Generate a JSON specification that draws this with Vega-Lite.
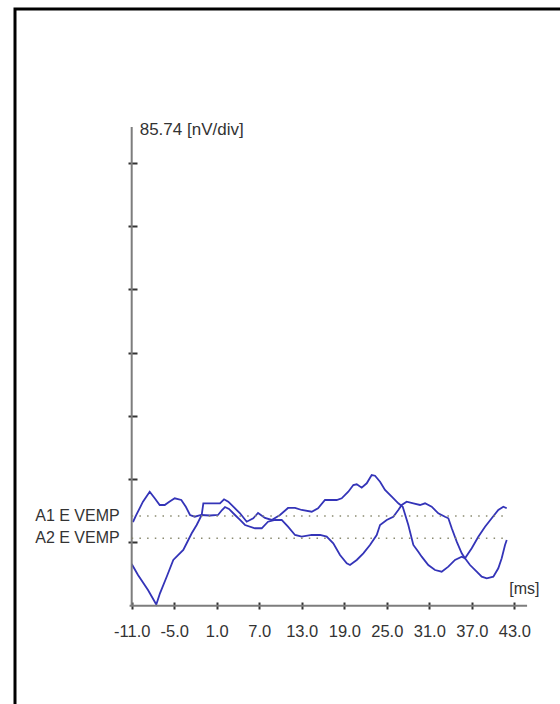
{
  "$schema": "https://vega.github.io/schema/vega-lite/v6.json",
  "width": 547,
  "height": 697,
  "autosize": {"type": "none"},
  "padding": {"left": 15, "top": 9, "right": -2, "bottom": -2},
  "background": "white",
  "config": {
    "view": {"stroke": "black", "strokeWidth": 3},
    "font": "Liberation Sans",
    "text": {"font": "Liberation Sans"},
    "axis": {"labelFont": "Liberation Sans"},
    "style": {"guide-label": {"font": "Liberation Sans"}}
  },
  "datasets": {
    "one": [{}],
    "refs": [
      {"label": "A1 E VEMP", "level": 1.418},
      {"label": "A2 E VEMP", "level": 1.066}
    ],
    "traces": [
      {"trace": "A1", "t": -10.82, "v": 1.323},
      {"trace": "A1", "t": -10.35, "v": 1.434},
      {"trace": "A1", "t": -9.41, "v": 1.644},
      {"trace": "A1", "t": -8.46, "v": 1.802},
      {"trace": "A1", "t": -7.75, "v": 1.698},
      {"trace": "A1", "t": -7.05, "v": 1.592},
      {"trace": "A1", "t": -6.34, "v": 1.592},
      {"trace": "A1", "t": -5.74, "v": 1.640},
      {"trace": "A1", "t": -4.93, "v": 1.698},
      {"trace": "A1", "t": -4.00, "v": 1.671},
      {"trace": "A1", "t": -3.34, "v": 1.560},
      {"trace": "A1", "t": -2.77, "v": 1.434},
      {"trace": "A1", "t": -2.11, "v": 1.407},
      {"trace": "A1", "t": -1.18, "v": 1.434},
      {"trace": "A1", "t": 0.05, "v": 1.426},
      {"trace": "A1", "t": 1.18, "v": 1.434},
      {"trace": "A1", "t": 1.75, "v": 1.513},
      {"trace": "A1", "t": 2.17, "v": 1.560},
      {"trace": "A1", "t": 2.73, "v": 1.529},
      {"trace": "A1", "t": 3.58, "v": 1.434},
      {"trace": "A1", "t": 4.29, "v": 1.355},
      {"trace": "A1", "t": 4.99, "v": 1.276},
      {"trace": "A1", "t": 6.40, "v": 1.224},
      {"trace": "A1", "t": 7.35, "v": 1.224},
      {"trace": "A1", "t": 8.24, "v": 1.328},
      {"trace": "A1", "t": 9.23, "v": 1.355},
      {"trace": "A1", "t": 10.17, "v": 1.355},
      {"trace": "A1", "t": 11.06, "v": 1.249},
      {"trace": "A1", "t": 12.05, "v": 1.118},
      {"trace": "A1", "t": 12.99, "v": 1.091},
      {"trace": "A1", "t": 14.41, "v": 1.118},
      {"trace": "A1", "t": 15.58, "v": 1.118},
      {"trace": "A1", "t": 16.52, "v": 1.091},
      {"trace": "A1", "t": 17.45, "v": 0.987},
      {"trace": "A1", "t": 18.40, "v": 0.802},
      {"trace": "A1", "t": 19.35, "v": 0.670},
      {"trace": "A1", "t": 19.81, "v": 0.643},
      {"trace": "A1", "t": 20.76, "v": 0.723},
      {"trace": "A1", "t": 21.69, "v": 0.828},
      {"trace": "A1", "t": 22.63, "v": 0.960},
      {"trace": "A1", "t": 23.58, "v": 1.118},
      {"trace": "A1", "t": 24.05, "v": 1.276},
      {"trace": "A1", "t": 24.99, "v": 1.355},
      {"trace": "A1", "t": 25.92, "v": 1.407},
      {"trace": "A1", "t": 26.63, "v": 1.513},
      {"trace": "A1", "t": 27.11, "v": 1.592},
      {"trace": "A1", "t": 27.81, "v": 1.644},
      {"trace": "A1", "t": 28.75, "v": 1.619},
      {"trace": "A1", "t": 29.69, "v": 1.592},
      {"trace": "A1", "t": 30.40, "v": 1.619},
      {"trace": "A1", "t": 31.34, "v": 1.565},
      {"trace": "A1", "t": 32.27, "v": 1.461},
      {"trace": "A1", "t": 33.22, "v": 1.407},
      {"trace": "A1", "t": 33.69, "v": 1.382},
      {"trace": "A1", "t": 34.17, "v": 1.224},
      {"trace": "A1", "t": 34.87, "v": 1.012},
      {"trace": "A1", "t": 35.58, "v": 0.828},
      {"trace": "A1", "t": 36.04, "v": 0.749},
      {"trace": "A1", "t": 36.75, "v": 0.643},
      {"trace": "A1", "t": 37.69, "v": 0.538},
      {"trace": "A1", "t": 38.40, "v": 0.458},
      {"trace": "A1", "t": 39.11, "v": 0.433},
      {"trace": "A1", "t": 40.04, "v": 0.458},
      {"trace": "A1", "t": 40.74, "v": 0.591},
      {"trace": "A1", "t": 41.22, "v": 0.749},
      {"trace": "A1", "t": 41.69, "v": 0.960},
      {"trace": "A1", "t": 41.93, "v": 1.039},
      {"trace": "A2", "t": -11.00, "v": 0.659},
      {"trace": "A2", "t": -10.11, "v": 0.485},
      {"trace": "A2", "t": -8.70, "v": 0.248},
      {"trace": "A2", "t": -7.75, "v": 0.063},
      {"trace": "A2", "t": -7.53, "v": 0.019},
      {"trace": "A2", "t": -7.01, "v": 0.196},
      {"trace": "A2", "t": -6.06, "v": 0.458},
      {"trace": "A2", "t": -5.13, "v": 0.723},
      {"trace": "A2", "t": -4.42, "v": 0.802},
      {"trace": "A2", "t": -3.72, "v": 0.881},
      {"trace": "A2", "t": -3.24, "v": 0.987},
      {"trace": "A2", "t": -2.53, "v": 1.145},
      {"trace": "A2", "t": -1.83, "v": 1.276},
      {"trace": "A2", "t": -1.12, "v": 1.434},
      {"trace": "A2", "t": -0.89, "v": 1.619},
      {"trace": "A2", "t": 0.33, "v": 1.619},
      {"trace": "A2", "t": 1.46, "v": 1.619},
      {"trace": "A2", "t": 2.03, "v": 1.682},
      {"trace": "A2", "t": 2.63, "v": 1.644},
      {"trace": "A2", "t": 3.34, "v": 1.565},
      {"trace": "A2", "t": 4.29, "v": 1.461},
      {"trace": "A2", "t": 5.23, "v": 1.328},
      {"trace": "A2", "t": 6.16, "v": 1.382},
      {"trace": "A2", "t": 6.83, "v": 1.466},
      {"trace": "A2", "t": 7.81, "v": 1.387},
      {"trace": "A2", "t": 8.76, "v": 1.355},
      {"trace": "A2", "t": 9.93, "v": 1.434},
      {"trace": "A2", "t": 11.06, "v": 1.545},
      {"trace": "A2", "t": 12.05, "v": 1.545},
      {"trace": "A2", "t": 12.99, "v": 1.513},
      {"trace": "A2", "t": 14.41, "v": 1.486},
      {"trace": "A2", "t": 15.30, "v": 1.540},
      {"trace": "A2", "t": 16.28, "v": 1.671},
      {"trace": "A2", "t": 17.93, "v": 1.671},
      {"trace": "A2", "t": 18.64, "v": 1.698},
      {"trace": "A2", "t": 19.57, "v": 1.802},
      {"trace": "A2", "t": 20.28, "v": 1.908},
      {"trace": "A2", "t": 20.76, "v": 1.919},
      {"trace": "A2", "t": 21.46, "v": 1.866},
      {"trace": "A2", "t": 22.17, "v": 1.935},
      {"trace": "A2", "t": 22.87, "v": 2.066},
      {"trace": "A2", "t": 23.34, "v": 2.055},
      {"trace": "A2", "t": 24.05, "v": 1.960},
      {"trace": "A2", "t": 24.75, "v": 1.829},
      {"trace": "A2", "t": 25.70, "v": 1.723},
      {"trace": "A2", "t": 26.63, "v": 1.619},
      {"trace": "A2", "t": 27.25, "v": 1.565},
      {"trace": "A2", "t": 28.04, "v": 1.276},
      {"trace": "A2", "t": 28.75, "v": 0.960},
      {"trace": "A2", "t": 29.45, "v": 0.854},
      {"trace": "A2", "t": 29.93, "v": 0.775},
      {"trace": "A2", "t": 30.86, "v": 0.643},
      {"trace": "A2", "t": 31.81, "v": 0.564},
      {"trace": "A2", "t": 32.75, "v": 0.538},
      {"trace": "A2", "t": 33.69, "v": 0.617},
      {"trace": "A2", "t": 34.63, "v": 0.723},
      {"trace": "A2", "t": 35.58, "v": 0.775},
      {"trace": "A2", "t": 36.04, "v": 0.749},
      {"trace": "A2", "t": 36.99, "v": 0.908},
      {"trace": "A2", "t": 37.92, "v": 1.091},
      {"trace": "A2", "t": 38.87, "v": 1.249},
      {"trace": "A2", "t": 39.81, "v": 1.382},
      {"trace": "A2", "t": 40.74, "v": 1.513},
      {"trace": "A2", "t": 41.45, "v": 1.565},
      {"trace": "A2", "t": 41.93, "v": 1.540}
    ]
  },
  "layer": [
    {
      "data": {"name": "traces"},
      "mark": {"type": "line", "color": "#3434b8", "strokeWidth": 1.8, "interpolate": "linear"},
      "encoding": {
        "x": {
          "field": "t", "type": "quantitative",
          "scale": {"domain": [-27.47, 49.73], "nice": false, "zero": false},
          "axis": {
            "values": [-11, -5, 1, 7, 13, 19, 25, 31, 37, 43],
            "labelExpr": "replace(format(datum.value, '.1f'), '\u2212', '-')",
            "orient": "bottom",
            "offset": -104,
            "domain": false,
            "grid": false,
            "title": null,
            "ticks": true,
            "tickSize": 7,
            "tickWidth": 2,
            "tickColor": "#333333",
            "labelFont": "Liberation Sans",
            "labelFontSize": 16.5,
            "labelColor": "#333333",
            "labelPadding": 14,
            "labelOverlap": false,
            "labelFlush": false
          }
        },
        "y": {
          "field": "v", "type": "quantitative",
          "scale": {"domain": [-1.586, 9.434], "nice": false, "zero": false},
          "axis": {
            "values": [1, 2, 3, 4, 5, 6, 7],
            "orient": "left",
            "offset": -122,
            "domain": false,
            "grid": false,
            "title": null,
            "labels": false,
            "ticks": true,
            "tickSize": 9,
            "tickWidth": 2,
            "tickColor": "#333333"
          }
        },
        "detail": {"field": "trace"},
        "order": {"field": "t", "type": "quantitative"}
      }
    },
    {
      "data": {"name": "one"},
      "mark": {"type": "rule", "color": "#7d7d7d", "strokeWidth": 2},
      "encoding": {
        "x": {"datum": -11.3, "type": "quantitative"},
        "x2": {"datum": 44.8},
        "y": {"datum": 0, "type": "quantitative"}
      }
    },
    {
      "data": {"name": "one"},
      "mark": {"type": "rule", "color": "#7d7d7d", "strokeWidth": 2},
      "encoding": {
        "x": {"datum": -11, "type": "quantitative"},
        "y": {"datum": 0, "type": "quantitative"},
        "y2": {"datum": 7.57}
      }
    },
    {
      "data": {"name": "refs"},
      "mark": {"type": "rule", "color": "#8a8a70", "strokeWidth": 1.5, "strokeDash": [1.5, 6.2]},
      "encoding": {
        "x": {"datum": -11, "type": "quantitative"},
        "x2": {"datum": 41.9},
        "y": {"field": "level", "type": "quantitative"}
      }
    },
    {
      "data": {"name": "refs"},
      "mark": {"type": "text", "align": "right", "baseline": "middle", "dx": -12, "fontSize": 16, "color": "#333333"},
      "encoding": {
        "x": {"datum": -11, "type": "quantitative"},
        "y": {"field": "level", "type": "quantitative"},
        "text": {"field": "label"}
      }
    },
    {
      "data": {"name": "one"},
      "mark": {"type": "text", "align": "left", "baseline": "middle", "dx": 8, "fontSize": 17, "color": "#333333", "text": "85.74 [nV/div]"},
      "encoding": {
        "x": {"datum": -11, "type": "quantitative"},
        "y": {"datum": 7.52, "type": "quantitative"}
      }
    },
    {
      "data": {"name": "one"},
      "mark": {"type": "text", "align": "left", "baseline": "middle", "dx": -5, "fontSize": 16, "color": "#333333", "text": "[ms]"},
      "encoding": {
        "x": {"datum": 43, "type": "quantitative"},
        "y": {"datum": 0.264, "type": "quantitative"}
      }
    }
  ]
}
